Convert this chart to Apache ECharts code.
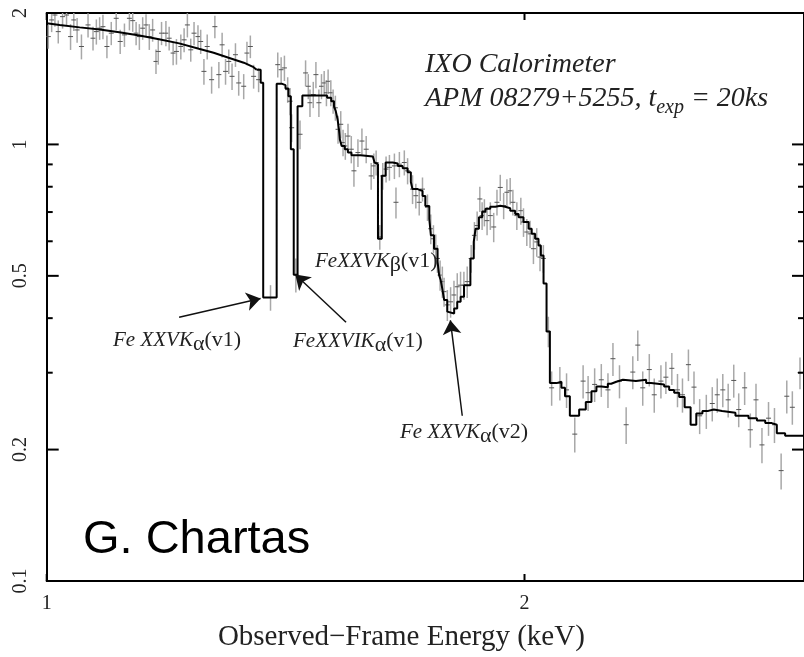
<!DOCTYPE html>
<html><head><meta charset="utf-8">
<script src="https://cdn.jsdelivr.net/npm/echarts@6/dist/echarts.min.js"></script>
<style>html,body{margin:0;padding:0;background:#fff}#chart{width:804px;height:657px}</style>
</head><body><div id="chart"></div>
<script>
// ---- model, smooth continuum part (energy keV, flux) ----
const modelCurveE = [1.000,1.019,1.049,1.080,1.111,1.144,1.177,1.212,1.247,1.274,1.302,1.331,1.350,1.356];
const modelCurveF = [1.895,1.878,1.854,1.834,1.806,1.777,1.741,1.704,1.656,1.622,1.580,1.539,1.503,1.483];
// ---- model, binned step part: bin start energy (keV) and model flux ----
const modelStepE = [1.356,1.364,1.369,1.396,1.406,1.414,1.420,1.425,1.431,1.439,1.449,1.502,1.511,1.517,1.521,1.525,1.528,1.530,1.534,1.541,1.548,1.556,1.577,1.605,1.609,1.613,1.617,1.626,1.635,1.652,1.664,1.676,1.688,1.696,1.700,1.713,1.725,1.732,1.742,1.746,1.754,1.763,1.767,1.771,1.775,1.780,1.788,1.793,1.806,1.814,1.823,1.832,1.849,1.858,1.863,1.872,1.881,1.890,1.903,1.917,1.931,1.945,1.959,1.973,1.983,1.997,2.012,2.021,2.031,2.041,2.048,2.056,2.065,2.075,2.095,2.110,2.121,2.136,2.165,2.186,2.204,2.220,2.236,2.257,2.268,2.285,2.307,2.351,2.386,2.403,2.449,2.467,2.485,2.503,2.523,2.545,2.566,2.589,2.607,2.632,2.664,2.716,2.768,2.802,2.836,2.863,2.884,2.919,3.000];
const modelStepF = [1.483,1.385,0.446,1.378,1.367,1.343,1.289,0.975,0.503,1.223,1.294,1.279,1.256,1.223,1.192,1.141,1.083,1.027,0.992,0.975,0.958,0.945,0.938,0.933,0.909,0.901,0.608,0.848,0.909,0.904,0.892,0.882,0.864,0.820,0.790,0.782,0.762,0.723,0.675,0.619,0.577,0.539,0.502,0.489,0.468,0.440,0.414,0.410,0.421,0.436,0.448,0.476,0.548,0.598,0.641,0.681,0.702,0.712,0.720,0.724,0.720,0.714,0.705,0.693,0.681,0.664,0.641,0.624,0.608,0.587,0.557,0.480,0.373,0.284,0.286,0.277,0.265,0.239,0.247,0.257,0.272,0.279,0.278,0.283,0.286,0.289,0.287,0.289,0.284,0.282,0.279,0.274,0.270,0.264,0.250,0.228,0.242,0.245,0.247,0.245,0.243,0.239,0.236,0.233,0.230,0.228,0.218,0.215,0.215];

// ---- simulated data points: energy, flux, 1-sigma error ----
const obsE = [
 1.0023,1.0072,1.0120,1.0169,1.0233,1.0292,1.0352,1.0401,1.0451,1.0517,1.0618,1.0695,1.0747,1.0798,1.0850,1.0913,1.0982,1.1061,1.1125,1.1194,
 1.1275,1.1329,1.1385,1.1439,1.1494,1.1550,1.1605,1.1661,1.1718,1.1757,1.1813,1.1888,1.1944,1.2013,1.2071,1.2148,1.2206,1.2264,1.2324,1.2383,
 1.2454,1.2503,1.2562,1.2622,1.2703,1.2763,1.2837,1.2898,1.2962,1.3023,1.3085,1.3150,1.3212,1.3308,1.3371,1.3437,1.3501,1.3599,
 1.3836,
 1.3982,1.4051,1.4118,1.4185,1.4234,1.4267,
 1.4354,
 1.4441,1.4558,1.4615,1.4651,1.4721,1.4778,1.4842,1.4898,1.4956,1.5005,1.5042,1.5101,1.5151,1.5201,1.5260,1.5320,1.5371,1.5422,1.5482,1.5556,
 1.5616,1.5707,1.5798,1.5896,1.6011,1.6073,1.6127,
 1.6213,
 1.6283,1.6361,1.6441,1.6560,1.6598,1.6680,1.6800,1.6880,1.7002,1.7083,1.7167,1.7249,1.7374,1.7457,1.7525,1.7583,1.7626,1.7695,1.7753,1.7797,
 1.7882,1.7967,1.8055,1.8141,1.8228,1.8317,1.8405,1.8511,1.8599,1.8672,1.8745,1.8807,1.8869,1.8943,1.9033,1.9126,1.9217,1.9309,1.9404,1.9496,
 1.9589,1.9666,1.9779,1.9894,1.9971,2.0067,2.0162,2.0261,2.0358,2.0455,2.0555,2.0704,
 2.0803,2.1053,2.1258,2.1513,2.1775,2.1933,2.2142,2.2357,2.2574,2.2738,2.2955,2.3178,2.3402,2.3572,2.3742,2.3969,2.4142,2.4377,2.4553,2.4766,
 2.4970,2.5151,2.5369,2.5575,2.5786,2.6036,2.6262,2.6452,2.6666,2.6875,2.7093,2.7289,2.7525,2.7753,2.7982,2.8225,2.8495,2.8742,2.9021,2.9260,
 2.9497,2.9826];
const obsF = [
 1.766,1.928,1.979,1.813,1.962,1.979,1.766,1.928,1.829,1.676,1.878,1.751,1.813,1.846,1.861,1.676,1.798,1.945,1.721,1.782,
 1.945,1.921,1.798,1.766,1.846,1.878,1.766,1.829,1.549,1.633,1.798,1.798,1.751,1.619,1.633,1.676,1.736,1.878,1.647,1.798,
 1.766,1.721,1.470,1.676,1.407,1.861,1.445,1.691,1.470,1.549,1.432,1.605,1.383,1.359,1.619,1.676,1.432,1.407,
 0.446,
 1.523,1.483,1.497,1.335,1.256,1.092,
 0.503,
 1.055,1.458,1.359,1.246,1.301,1.445,1.246,1.359,1.383,1.313,1.395,1.313,1.256,1.213,1.083,1.112,1.010,0.992,1.045,0.975,
 0.870,0.958,1.018,0.975,0.847,0.893,0.909,
 0.614,
 0.847,0.878,0.886,0.893,0.737,0.901,0.909,0.870,0.790,0.763,0.737,0.790,0.718,0.641,0.608,0.577,0.548,0.502,0.485,0.460,
 0.429,0.436,0.452,0.472,0.476,0.476,0.485,0.548,0.619,0.652,0.750,0.687,0.699,0.669,0.687,0.647,0.737,0.797,0.724,0.777,
 0.783,0.737,0.687,0.705,0.664,0.630,0.624,0.577,0.598,0.552,0.548,0.373,
 0.277,0.284,0.274,0.217,0.287,0.270,0.282,0.289,0.274,0.323,0.287,0.228,0.301,0.347,0.277,0.305,0.267,0.287,0.293,0.307,
 0.274,0.267,0.313,0.278,0.239,0.245,0.255,0.267,0.274,0.260,0.288,0.247,0.277,0.222,0.260,0.205,0.236,0.228,0.179,0.265,
 0.250,0.300];
const obsErr = [
 0.11,0.12,0.12,0.11,0.12,0.11,0.12,0.11,0.12,0.11,0.12,0.11,0.12,0.11,0.12,0.10,0.11,0.12,0.11,0.11,
 0.12,0.11,0.11,0.12,0.11,0.11,0.12,0.11,0.10,0.11,0.11,0.12,0.11,0.10,0.11,0.11,0.11,0.12,0.10,0.11,
 0.11,0.11,0.10,0.11,0.10,0.11,0.10,0.11,0.10,0.10,0.10,0.10,0.09,0.09,0.10,0.10,0.09,0.09,
 0.03,
 0.10,0.10,0.10,0.09,0.09,0.08,
 0.045,
 0.08,0.10,0.09,0.09,0.09,0.10,0.09,0.09,0.09,0.09,0.09,0.09,0.08,0.08,0.08,0.08,0.07,0.07,0.07,0.07,
 0.07,0.07,0.07,0.07,0.06,0.06,0.06,
 0.04,
 0.06,0.06,0.06,0.06,0.06,0.06,0.06,0.06,0.06,0.05,0.05,0.05,0.05,0.05,0.045,0.045,0.04,0.04,0.04,0.035,
 0.035,0.035,0.035,0.035,0.035,0.035,0.04,0.04,0.045,0.05,0.05,0.05,0.05,0.05,0.05,0.05,0.05,0.055,0.05,0.055,
 0.055,0.05,0.05,0.05,0.05,0.045,0.045,0.045,0.045,0.04,0.04,0.03,
 0.025,0.025,0.025,0.02,0.025,0.025,0.025,0.025,0.025,0.028,0.025,0.022,0.026,0.028,0.025,0.026,0.024,0.025,0.025,0.026,
 0.024,0.024,0.026,0.024,0.022,0.022,0.023,0.024,0.024,0.023,0.025,0.022,0.024,0.02,0.023,0.019,0.021,0.021,0.017,0.023,
 0.022,0.025];

// ---- axes ----
const xRange = [1, 3];
const yRange = [0.1, 2];
const xTickValues = [1, 2];
const xTickLabels = ['1', '2'];
const yTickValues = [0.1, 0.2, 0.5, 1, 2];
const yTickLabels = ['0.1', '0.2', '0.5', '1', '2'];
const yMinorTickValues = [0.3, 0.4, 0.6, 0.7, 0.8, 0.9];

// ---- annotation arrows (from label to feature), in data units ----
const arrowFrom = [[1.2118, 0.4018], [1.5438, 0.3914], [1.8273, 0.2391]];
const arrowTo   = [[1.3638, 0.4439], [1.4343, 0.5034], [1.7960, 0.3955]];

const SERIF = 'Liberation Serif';
const TXT = '#222';
const chart = echarts.init(document.getElementById('chart'), null, {renderer: 'canvas'});
const lineAxis = {show: true, lineStyle: {color: '#000', width: 2}};
const hidden = {
  axisTick: {show: false}, axisLabel: {show: false}, splitLine: {show: false}, minorTick: {show: false}
};
const annRich = function () {
  return {
    it: {fontFamily: SERIF, fontStyle: 'italic', fontSize: 21, fill: TXT, verticalAlign: 'middle'},
    g: {fontFamily: SERIF, fontSize: 22, fill: TXT, padding: [8, 0, 0, 0], verticalAlign: 'middle'},
    r: {fontFamily: SERIF, fontSize: 22, fill: TXT, verticalAlign: 'middle'}
  };
};
function annText(x, y, txt) {
  return {type: 'text', x: x, y: y, silent: true, z: 10,
    style: {text: txt, rich: annRich(), align: 'left', textAlign: 'left', verticalAlign: 'middle', textVerticalAlign: 'middle'}};
}
const modelLine = {color: '#000', width: 2};

const option = {
  animation: false,
  backgroundColor: '#fff',
  grid: {left: 46.7, top: 13, width: 762.3, height: 571, containLabel: false},
  xAxis: [
    Object.assign({type: 'log', logBase: 10, min: xRange[0], max: xRange[1], axisLine: lineAxis,
      name: 'Observed\u2212Frame Energy (keV)', nameLocation: 'middle', nameGap: 42,
      nameTextStyle: {fontFamily: SERIF, fontSize: 29, color: TXT, padding: [0, 48, 0, 0]}}, hidden),
    Object.assign({type: 'log', logBase: 10, position: 'top', min: xRange[0], max: xRange[1], axisLine: lineAxis}, hidden)
  ],
  yAxis: [
    Object.assign({type: 'log', logBase: 10, min: yRange[0], max: yRange[1], axisLine: lineAxis}, hidden),
    Object.assign({type: 'log', logBase: 10, position: 'right', min: yRange[0], max: yRange[1], axisLine: lineAxis}, hidden)
  ],
  series: [
    { // data error bars
      type: 'custom', name: 'data', xAxisIndex: 0, yAxisIndex: 0, clip: true, z: 2, silent: true,
      data: obsE.map((e, i) => [e, obsF[i], obsErr[i]]),
      renderItem: function (params, api) {
        const e = api.value(0), f = api.value(1), d = api.value(2);
        const c = api.coord([e, f]);
        const hi = api.coord([e, f + d]);
        const lo = api.coord([e, f - d]);
        return {type: 'group', children: [
          {type: 'line', shape: {x1: c[0], y1: hi[1], x2: c[0], y2: lo[1]}, style: {stroke: '#a8a8a8', lineWidth: 1.5}},
          {type: 'line', shape: {x1: c[0] - 2.5, y1: c[1], x2: c[0] + 2.5, y2: c[1]}, style: {stroke: '#555', lineWidth: 1}}
        ]};
      }
    },
    { // model continuum (smooth)
      type: 'line', name: 'model', xAxisIndex: 0, yAxisIndex: 0, symbol: 'none', showSymbol: false,
      clip: true, z: 3, silent: true, lineStyle: modelLine,
      data: modelCurveE.map((e, i) => [e, modelCurveF[i]])
    },
    { // model binned (step)
      type: 'line', name: 'model', xAxisIndex: 0, yAxisIndex: 0, step: 'end', symbol: 'none', showSymbol: false,
      clip: true, z: 3, silent: true, lineStyle: modelLine,
      data: modelStepE.map((e, i) => [e, modelStepF[i]]),
      markLine: {
        silent: true, symbol: ['none', 'arrow'], symbolSize: 14, animation: false,
        lineStyle: {color: '#111', width: 1.5, type: 'solid'},
        label: {show: false},
        data: arrowFrom.map((p, i) => [{coord: p}, {coord: arrowTo[i]}])
      }
    },
    { // y major ticks + labels
      type: 'custom', xAxisIndex: 0, yAxisIndex: 0, silent: true, z: 5,
      data: yTickValues.map((v, i) => [xRange[0], v, i]),
      renderItem: function (params, api) {
        const cs = params.coordSys;
        const p = api.coord([xRange[0], api.value(1)]);
        const idx = api.value(2);
        return {type: 'group', children: [
          {type: 'line', shape: {x1: cs.x, y1: p[1], x2: cs.x + 12, y2: p[1]}, style: {stroke: '#000', lineWidth: 2}},
          {type: 'line', shape: {x1: cs.x + cs.width, y1: p[1], x2: cs.x + cs.width - 12, y2: p[1]}, style: {stroke: '#000', lineWidth: 2}},
          {type: 'text', x: cs.x - 16, y: p[1], rotation: Math.PI / 2,
            style: {text: yTickLabels[idx], fontFamily: SERIF, fontSize: 20, fill: TXT,
              align: 'center', textAlign: 'center', verticalAlign: 'bottom', textVerticalAlign: 'bottom'}}
        ]};
      }
    },
    { // y minor ticks
      type: 'custom', xAxisIndex: 0, yAxisIndex: 0, silent: true, z: 5,
      data: yMinorTickValues.map(v => [xRange[0], v]),
      renderItem: function (params, api) {
        const cs = params.coordSys;
        const p = api.coord([xRange[0], api.value(1)]);
        return {type: 'group', children: [
          {type: 'line', shape: {x1: cs.x, y1: p[1], x2: cs.x + 6, y2: p[1]}, style: {stroke: '#000', lineWidth: 2}},
          {type: 'line', shape: {x1: cs.x + cs.width, y1: p[1], x2: cs.x + cs.width - 6, y2: p[1]}, style: {stroke: '#000', lineWidth: 2}}
        ]};
      }
    },
    { // x ticks + labels
      type: 'custom', xAxisIndex: 0, yAxisIndex: 0, silent: true, z: 5,
      data: xTickValues.map((v, i) => [v, yRange[0], i]),
      renderItem: function (params, api) {
        const cs = params.coordSys;
        const p = api.coord([api.value(0), yRange[0]]);
        const idx = api.value(2);
        const bottom = cs.y + cs.height;
        return {type: 'group', children: [
          {type: 'line', shape: {x1: p[0], y1: bottom, x2: p[0], y2: bottom - 7}, style: {stroke: '#000', lineWidth: 2}},
          {type: 'line', shape: {x1: p[0], y1: cs.y, x2: p[0], y2: cs.y + 7}, style: {stroke: '#000', lineWidth: 2}},
          {type: 'text', x: p[0], y: bottom + 13,
            style: {text: xTickLabels[idx], fontFamily: SERIF, fontSize: 20, fill: TXT,
              align: 'center', textAlign: 'center', verticalAlign: 'top', textVerticalAlign: 'top'}}
        ]};
      }
    }
  ],
  graphic: [
    {type: 'text', x: 425, y: 64.5, silent: true, z: 10,
      style: {text: 'IXO Calorimeter', fontFamily: SERIF, fontStyle: 'italic', fontSize: 28, fill: TXT,
        align: 'left', textAlign: 'left', verticalAlign: 'middle', textVerticalAlign: 'middle'}},
    {type: 'text', x: 425, y: 98.5, silent: true, z: 10,
      style: {text: '{m|APM 08279+5255, t}{s|exp}{m| = 20ks}',
        rich: {
          m: {fontFamily: SERIF, fontStyle: 'italic', fontSize: 28, fill: TXT, verticalAlign: 'middle'},
          s: {fontFamily: SERIF, fontStyle: 'italic', fontSize: 20, fill: TXT, padding: [19, 0, 0, 0], verticalAlign: 'middle'}
        },
        align: 'left', textAlign: 'left', verticalAlign: 'middle', textVerticalAlign: 'middle'}},
    annText(113, 340, '{it|Fe XXVK}{g|\u03b1}{r|(v1)}'),
    annText(293, 341, '{it|FeXXVIK}{g|\u03b1}{r|(v1)}'),
    annText(315, 261, '{it|FeXXVK}{g|\u03b2}{r|(v1)}'),
    annText(400, 432, '{it|Fe XXVK}{g|\u03b1}{r|(v2)}'),
    {type: 'text', x: 83, y: 539.7, silent: true, z: 10,
      style: {text: 'G. Chartas', fontFamily: 'Liberation Sans', fontSize: 47, fill: '#000',
        align: 'left', textAlign: 'left', verticalAlign: 'middle', textVerticalAlign: 'middle'}}
  ]
};
chart.setOption(option);
</script>
</body></html>
